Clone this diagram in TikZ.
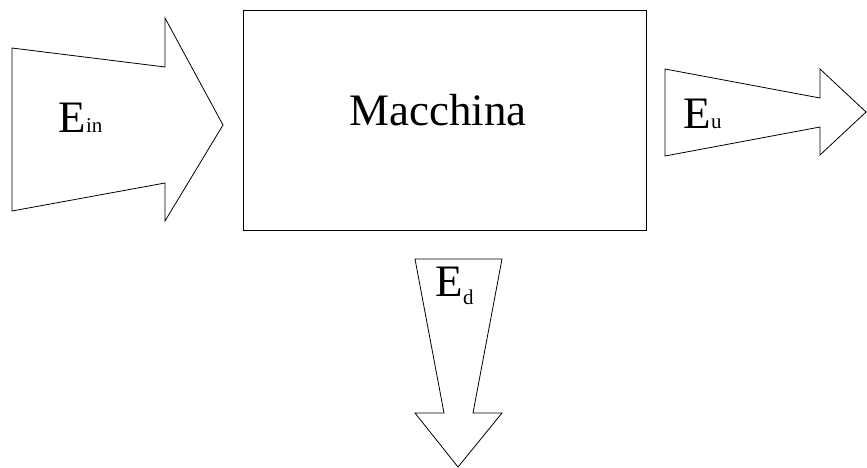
\documentclass[tikz,border=0pt]{standalone}
\usepackage{fontspec}
\setmainfont{Liberation Serif}
\begin{document}
\begin{tikzpicture}[x=1pt,y=-1pt,
  shape line/.style={draw=black,line width=0.8pt,line join=miter,fill=white},
  bigtxt/.style={inner sep=0pt,font=\fontsize{45}{50}\selectfont},
  subtxt/.style={inner sep=0pt,font=\fontsize{21}{24}\selectfont}]
\useasboundingbox (0,0) rectangle (867,467);
% input arrow
\draw[shape line] (12,48) -- (165,67) -- (165,18) -- (223,125) -- (165,221) -- (165,183) -- (12,211) -- cycle;
% machine box
\node[draw=black,line width=0.8pt,minimum width=403pt,minimum height=220pt,inner sep=0pt] (machine) at (444.5,120) {};
\node[bigtxt,anchor=base] (machinelabel) at (438,125) {Macchina};
% output arrow
\draw[shape line] (665,69) -- (820,98) -- (820,69) -- (866,112) -- (820,155) -- (820,127) -- (665,156) -- cycle;
% dissipated arrow
\draw[shape line] (415,259) -- (502,259) -- (473,413) -- (502,413) -- (458,467) -- (415,413) -- (444,413) -- cycle;
% labels
\node[bigtxt,anchor=base west] (Ein) at (58,132) {E};
\node[subtxt,anchor=base west] (Einsub) at (Ein.base east) {in};
\node[bigtxt,anchor=base west] (Eu) at (683,128) {E};
\node[subtxt,anchor=base west] (Eusub) at (Eu.base east) {u};
\node[bigtxt,anchor=base west] (Ed) at (435,296) {E};
\node[subtxt,anchor=base west] (Edsub) at ([yshift=-8pt]Ed.base east) {d};
\end{tikzpicture}
\end{document}
